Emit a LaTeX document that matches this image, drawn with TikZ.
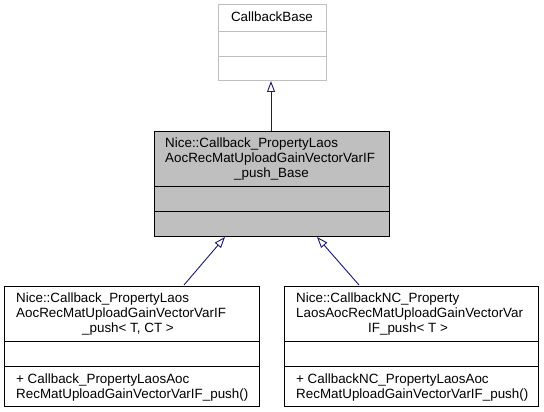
\documentclass[tikz,border=0pt]{standalone}
\usepackage{fontspec}
\setmainfont{Liberation Sans}
\usetikzlibrary{arrows.meta}
\definecolor{edgeblue}{HTML}{191970}
\definecolor{boxgray}{HTML}{BFBFBF}
\definecolor{lightborder}{HTML}{BFBFBF}
\tikzset{
  ln/.style={inner sep=0pt, anchor=base west, font=\fontsize{13.4}{15}\selectfont},
  lnc/.style={inner sep=0pt, anchor=base, font=\fontsize{13.4}{15}\selectfont},
  classbox/.style={draw=black, line width=1pt},
  inherit/.style={draw=edgeblue, line width=0.9pt, -{Triangle[open, length=11pt, width=8pt]}},
}
\begin{document}
\begin{tikzpicture}[x=1pt, y=-1pt]
\useasboundingbox (0,0) rectangle (544,412);
% CallbackBase
\draw[draw=lightborder, line width=1pt] (218,5) rectangle (326,81);
\draw[draw=lightborder, line width=1pt] (218,32) -- (326,32) (218,57) -- (326,57);
\node[lnc, text=black] (cbname) at (272,22) {CallbackBase};
\coordinate (cbbot) at (271,81);
% Middle base
\draw[classbox, fill=boxgray] (154,131) rectangle (389,236);
\draw[classbox] (154,186) -- (389,186) (154,211) -- (389,211);
\node[ln] (m1) at (165,147) {Nice::Callback\_PropertyLaos};
\node[ln] (m2) at (165,162) {AocRecMatUploadGainVectorVarIF};
\node[lnc] (m3) at (271.5,177) {\_push\_Base};
\coordinate (midtop) at (271,131);
\coordinate (midl) at (225,237);
\coordinate (midr) at (317,237);
% Bottom left
\draw[classbox] (4,286) rectangle (259,406);
\draw[classbox] (4,341) -- (259,341) (4,366) -- (259,366);
\node[ln] (l1) at (16,302) {Nice::Callback\_PropertyLaos};
\node[ln] (l2) at (16,317) {AocRecMatUploadGainVectorVarIF};
\node[lnc] (l3) at (128,332) {\_push< T, CT >};
\node[ln] (l4) at (16,383) {+ Callback\_PropertyLaosAoc};
\node[ln] (l5) at (16,398) {RecMatUploadGainVectorVarIF\_push()};
\coordinate (ltop) at (184,285);
% Bottom right
\draw[classbox] (284,286) rectangle (538,406);
\draw[classbox] (284,341) -- (538,341) (284,366) -- (538,366);
\node[ln] (r1) at (296,302) {Nice::CallbackNC\_Property};
\node[ln] (r2) at (296,317) {LaosAocRecMatUploadGainVectorVar};
\node[lnc] (r3) at (408,332) {IF\_push< T >};
\node[ln] (r4) at (296,383) {+ CallbackNC\_PropertyLaosAoc};
\node[ln] (r5) at (296,398) {RecMatUploadGainVectorVarIF\_push()};
\coordinate (rtop) at (359,285);
% Edges
\draw[inherit] (midtop) -- (cbbot);
\draw[inherit] (ltop) -- (midl);
\draw[inherit] (rtop) -- (midr);
\end{tikzpicture}
\end{document}
